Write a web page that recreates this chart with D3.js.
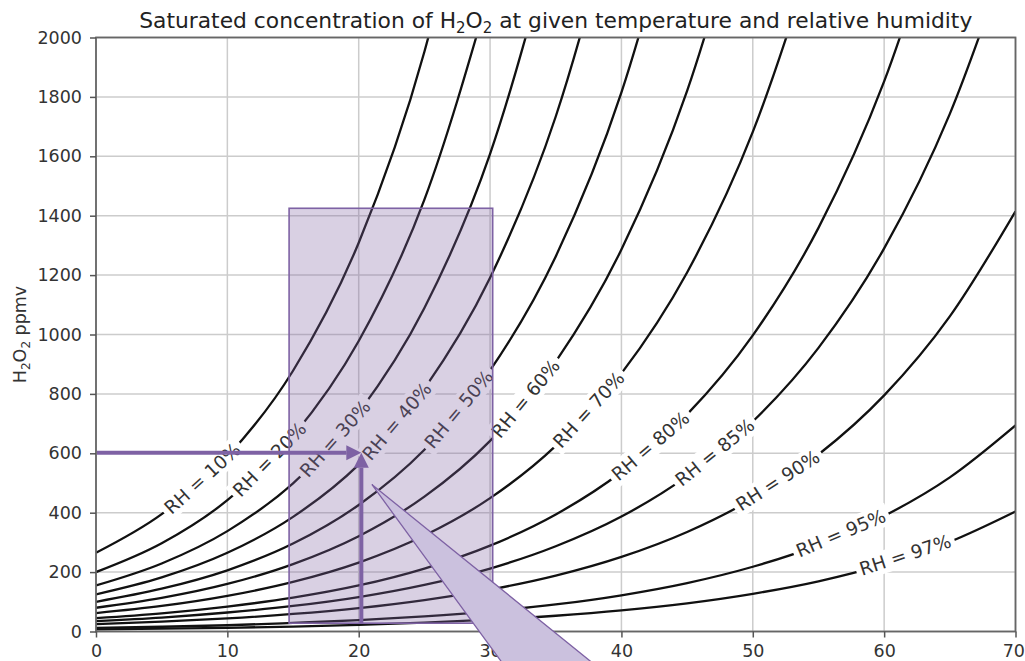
<!DOCTYPE html>
<html>
<head>
<meta charset="utf-8">
<script src="https://cdn.jsdelivr.net/npm/d3@7"></script>
<style>
  html, body { margin: 0; padding: 0; background: #fff; }
  svg { display: block; font-family: "DejaVu Sans", sans-serif; }
</style>
</head>
<body>
<svg id="chart" width="1025" height="661"></svg>
<script>
// ---------------- data ----------------
const temps = [0, 5, 10, 15, 20, 25, 30, 35, 40, 45, 50, 55, 60, 65, 70];
const rhNames = ["RH = 10%", "RH = 20%", "RH = 30%", "RH = 40%", "RH = 50%", "RH = 60%",
                 "RH = 70%", "RH = 80%", "RH = 85%", "RH = 90%", "RH = 95%", "RH = 97%"];
const rh10 = [265, 395, 589, 878, 1309, 1952, 2910];
const rh20 = [200, 297, 442, 658, 978, 1454, 2162];
const rh30 = [155, 229, 338, 499, 737, 1089, 1608, 2375];
const rh40 = [125, 182, 265, 386, 562, 818, 1191, 1734, 2525];
const rh50 = [100, 144, 206, 296, 426, 612, 879, 1263, 1815, 2608];
const rh60 = [80, 113, 160, 227, 321, 454, 642, 909, 1286, 1820, 2575];
const rh70 = [62, 86, 120, 167, 232, 323, 449, 625, 869, 1209, 1682, 2340];
const rh80 = [45, 61, 84, 114, 155, 212, 289, 394, 537, 731, 997, 1359, 1852, 2524];
const rh85 = [35, 47, 64, 86, 116, 157, 212, 287, 387, 523, 707, 955, 1290, 1743, 2355];
const rh90 = [25, 33, 44, 59, 79, 106, 141, 188, 251, 335, 447, 596, 795, 1061, 1415];
const rh95 = [12, 16, 21, 29, 38, 51, 68, 91, 122, 163, 218, 291, 389, 519, 694];
const rh97 = [7, 9.4, 12.5, 16.7, 22.3, 29.8, 39.8, 53.1, 71, 95, 127, 169, 226, 302, 404];
// temperature at which each curve label sits
const labelTemps = [8.1, 13.2, 18.2, 22.9, 27.6, 32.7, 37.5, 42.2, 47.1, 51.9, 56.7, 61.6];

const xTicks = [0, 10, 20, 30, 40, 50, 60, 70];
const yTicks = [0, 200, 400, 600, 800, 1000, 1200, 1400, 1600, 1800, 2000];

// annotation overlay (data coordinates)
const boxT = [14.7, 30.2];
const boxPpm = [28, 1425];
const arrowTarget = [20.2, 602];
const arrowStartT = 0;
const arrowStartPpm = 25;
const wedgeTip = [21.0, 495];
const wedgeBase = [[33.0, -231], [41.3, -231]];

// ---------------- layout ----------------
const svg = d3.select("#chart");
const L = 96, R = 1015.5, T = 37.5, B = 631.5;
const x = d3.scaleLinear().domain([0, 70]).range([L, R]);
const y = d3.scaleLinear().domain([0, 2000]).range([B, T]);

svg.append("defs").append("clipPath").attr("id", "plotclip")
  .append("rect").attr("x", L).attr("y", T).attr("width", R - L).attr("height", B - T);

// grid
const grid = svg.append("g").attr("stroke", "#cccccc").attr("stroke-width", 1.5);
grid.selectAll("line.vx").data(xTicks).join("line")
  .attr("x1", d => x(d)).attr("x2", d => x(d)).attr("y1", T).attr("y2", B);
grid.selectAll("line.hy").data(yTicks).join("line")
  .attr("y1", d => y(d)).attr("y2", d => y(d)).attr("x1", L).attr("x2", R);

// curves
const series = [rh10, rh20, rh30, rh40, rh50, rh60, rh70, rh80, rh85, rh90, rh95, rh97]
  .map((vals, i) => ({ name: rhNames[i], labelT: labelTemps[i],
                       pts: vals.map((v, j) => [temps[j], v]) }));

const line = d3.line().x(d => x(d[0])).y(d => y(d[1])).curve(d3.curveMonotoneX);
const curves = svg.append("g").attr("clip-path", "url(#plotclip)");
const paths = curves.selectAll("path").data(series).join("path")
  .attr("d", d => line(d.pts))
  .attr("fill", "none").attr("stroke", "#111").attr("stroke-width", 2.3);

// curve labels (with white background, matplotlib clabel style)
const labG = svg.append("g");
paths.each(function (d) {
  const p = this;
  const total = p.getTotalLength();
  const tx = x(d.labelT);
  let lo = 0, hi = total;
  for (let k = 0; k < 40; k++) {
    const mid = (lo + hi) / 2;
    if (p.getPointAtLength(mid).x < tx) lo = mid; else hi = mid;
  }
  const s = (lo + hi) / 2;
  const c = p.getPointAtLength(s);
  const a = p.getPointAtLength(Math.max(0, s - 4));
  const b = p.getPointAtLength(Math.min(total, s + 4));
  const ang = Math.atan2(b.y - a.y, b.x - a.x) * 180 / Math.PI;
  const g = labG.append("g").attr("transform", `translate(${c.x},${c.y - 3}) rotate(${ang})`);
  const rect = g.append("rect").attr("fill", "#fff");
  const t = g.append("text").text(d.name)
    .attr("text-anchor", "middle").attr("dy", "0.36em")
    .attr("font-size", 18.5).attr("fill", "#333");
  const bb = t.node().getBBox();
  rect.attr("x", bb.x - 4).attr("y", bb.y - 1).attr("width", bb.width + 8).attr("height", bb.height + 2);
});

// spines
svg.append("rect").attr("x", L).attr("y", T).attr("width", R - L).attr("height", B - T)
  .attr("fill", "none").attr("stroke", "#666").attr("stroke-width", 1.8);

// axes
const yAxis = svg.append("g").attr("transform", `translate(${L},0)`)
  .call(d3.axisLeft(y).tickValues(yTicks).tickSize(6).tickPadding(8).tickFormat(d3.format("d")));
const xAxis = svg.append("g").attr("transform", `translate(0,${B})`)
  .call(d3.axisBottom(x).tickValues(xTicks).tickSize(6).tickPadding(7).tickFormat(d3.format("d")));
[yAxis, xAxis].forEach(ax => {
  ax.select(".domain").remove();
  ax.selectAll(".tick line").attr("stroke", "#555").attr("stroke-width", 1.5);
  ax.selectAll(".tick text").attr("font-size", 17.5).attr("fill", "#333")
    .attr("font-family", "DejaVu Sans");
});
// keep the last x tick label inside the page
xAxis.selectAll(".tick text").filter(d => d === 70).attr("text-anchor", "end").attr("x", 9);

// title
const title = svg.append("text").attr("x", (L + R) / 2).attr("y", 28)
  .attr("text-anchor", "middle").attr("font-size", 21.8).attr("fill", "#222");
title.append("tspan").text("Saturated concentration of H");
title.append("tspan").text("2").attr("font-size", 15).attr("dy", 4.5);
title.append("tspan").text("O").attr("dy", -4.5);
title.append("tspan").text("2").attr("font-size", 15).attr("dy", 4.5);
title.append("tspan").text(" at given temperature and relative humidity").attr("dy", -4.5);

// y label
const ylab = svg.append("text").attr("transform", `translate(20,${(T + B) / 2}) rotate(-90)`)
  .attr("text-anchor", "middle").attr("dy", "0.36em").attr("font-size", 17.5).attr("fill", "#333");
ylab.append("tspan").text("H");
ylab.append("tspan").text("2").attr("font-size", 12).attr("dy", 3.5);
ylab.append("tspan").text("O").attr("dy", -3.5);
ylab.append("tspan").text("2").attr("font-size", 12).attr("dy", 3.5);
ylab.append("tspan").text(" ppmv").attr("dy", -3.5);

// ---------------- purple annotation overlay ----------------
const purple = "#7e62a4";
svg.append("rect")
  .attr("x", x(boxT[0])).attr("y", y(boxPpm[1]))
  .attr("width", x(boxT[1]) - x(boxT[0])).attr("height", y(boxPpm[0]) - y(boxPpm[1]))
  .attr("fill", "rgba(128,100,162,0.30)").attr("stroke", purple).attr("stroke-width", 1.6);

function arrow(x1, y1, x2, y2) {
  const head = 15, half = 7.5, w = 4;
  const ang = Math.atan2(y2 - y1, x2 - x1);
  const bx = x2 - head * Math.cos(ang), by = y2 - head * Math.sin(ang);
  svg.append("line").attr("x1", x1).attr("y1", y1).attr("x2", bx).attr("y2", by)
    .attr("stroke", purple).attr("stroke-width", w);
  const px = -Math.sin(ang), py = Math.cos(ang);
  svg.append("path")
    .attr("d", `M${x2},${y2} L${bx + px * half},${by + py * half} L${bx - px * half},${by - py * half} Z`)
    .attr("fill", purple);
}
arrow(x(arrowStartT) + 1, y(arrowTarget[1]), x(arrowTarget[0]), y(arrowTarget[1]));
arrow(x(arrowTarget[0]), y(arrowStartPpm), x(arrowTarget[0]), y(arrowTarget[1]));

svg.append("path")
  .attr("d", d3.line()([[x(wedgeTip[0]), y(wedgeTip[1])],
                        [x(wedgeBase[0][0]), y(wedgeBase[0][1])],
                        [x(wedgeBase[1][0]), y(wedgeBase[1][1])]]) + "Z")
  .attr("fill", "#cbc1de").attr("stroke", purple).attr("stroke-width", 1.3);
</script>
</body>
</html>
